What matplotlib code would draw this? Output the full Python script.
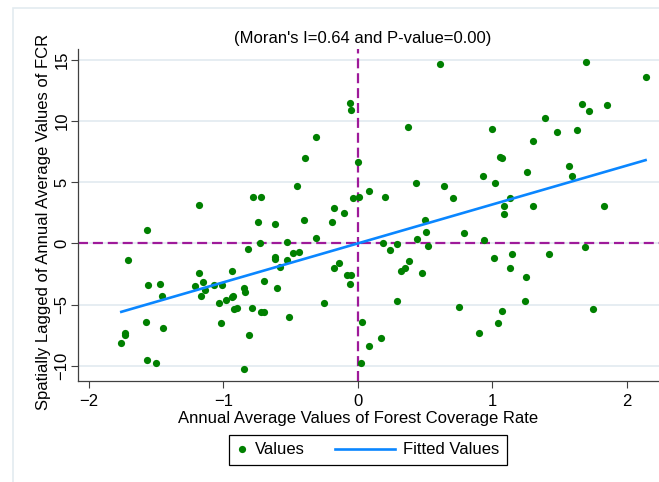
import numpy as np
import matplotlib
matplotlib.use('Agg')
import matplotlib.pyplot as plt
from matplotlib.legend_handler import HandlerLine2D
from matplotlib.patches import Rectangle

plt.rcParams['font.family'] = ['Liberation Sans', 'DejaVu Sans']

# Annual average forest coverage rate (x) vs spatially lagged FCR (y)
forest_rate = [
    -0.06, -0.05, -0.31, -0.39, 0.00, -0.45, -0.78, -0.72, -0.04, 0.01,
    -1.18, -0.18, 0.61, 1.70, 2.14, 1.67, 1.72, 1.85, 1.39, 0.37,
    1.00, 1.48, 1.63, 1.30, 1.06, 1.07, 1.57, 1.59, 0.93, 1.26,
    0.43, 1.02, 0.64, 0.08, 0.20, 0.71, 1.13, 1.09, 1.30, 1.83,
    -0.10, -1.57, -0.74, -0.62, -0.40, -0.19, -0.31, -0.73, -0.53, -0.82,
    -1.71, -0.62, -0.62, -0.53, -0.48, -0.44, -0.58, -0.14, -0.18, -0.08,
    -0.05, -0.06, -1.18, -0.94, -0.70, -1.56, -1.47, -1.21, -1.15, -1.14,
    -1.07, -1.01, -1.17, -1.46, -0.85, -0.84, -0.60, -0.98, -1.03, -0.94,
    -0.93, -0.92, -0.90, -0.79, -0.72, -0.70, -0.51, -0.25, -1.58, -1.02,
    -1.45, -1.73, -1.73, -1.76, -0.81, -1.57, -1.50, -0.85, 0.03, 0.02,
    1.09, 0.50, 0.51, 0.79, 0.44, 0.94, 0.19, 0.29, 0.52, 0.24,
    1.69, 0.38, 0.35, 0.32, 0.48, 1.01, 1.15, 1.42, 1.13, 1.25,
    0.29, 0.75, 1.24, 1.07, 1.75, 1.04, 0.90, 0.17, 0.08,
]
lagged_fcr = [
    11.52, 10.94, 8.72, 7.02, 6.64, 4.71, 3.84, 3.84, 3.76, 3.82,
    3.17, 2.93, 14.68, 14.87, 13.65, 11.40, 10.81, 11.30, 10.25, 9.56,
    9.35, 9.11, 9.24, 8.34, 7.04, 7.02, 6.30, 5.53, 5.53, 5.82,
    4.92, 4.92, 4.74, 4.28, 3.78, 3.76, 3.74, 3.07, 3.09, 3.09,
    2.46, 1.10, 1.73, 1.57, 1.92, 1.73, 0.49, 0.00, 0.16, -0.46,
    -1.39, -1.12, -1.28, -1.34, -0.79, -0.68, -1.93, -1.60, -2.03, -2.60,
    -2.60, -3.28, -2.40, -2.27, -3.04, -3.39, -3.33, -3.44, -3.17, -3.80,
    -3.36, -3.36, -4.28, -4.28, -3.66, -3.94, -3.66, -4.63, -4.88, -4.36,
    -4.26, -5.37, -5.26, -5.29, -5.61, -5.58, -5.99, -4.88, -6.38, -6.46,
    -6.91, -7.29, -7.44, -8.10, -7.48, -9.49, -9.73, -10.22, -6.43, -9.81,
    2.38, 1.89, 0.94, 0.86, 0.33, 0.25, 0.08, -0.06, -0.17, -0.52,
    -0.25, -1.42, -1.98, -2.27, -2.44, -1.18, -0.89, -0.87, -1.98, -2.72,
    -4.69, -5.18, -4.69, -5.53, -5.37, -6.48, -7.29, -7.70, -8.37,
]
x_ticks = [-2, -1, 0, 1, 2]
y_ticks = [-10, -5, 0, 5, 10, 15]
title = "(Moran's I=0.64 and P-value=0.00)"


class LongLineHandler(HandlerLine2D):
    # line sample reaching further left than the handle box
    def get_xdata(self, legend, xdescent, ydescent, width, height, fontsize):
        xdata = np.array([-xdescent - 3.0 * fontsize, -xdescent + width])
        return xdata, xdata[-1:]


def main():
    x = np.array(forest_rate)
    y = np.array(lagged_fcr)
    slope, intercept = np.polyfit(x, y, 1)
    xfit = np.array([x.min(), x.max()])

    fig = plt.figure(figsize=(6.59, 4.82), dpi=100)
    fig.patches.append(Rectangle((13 / 659, -0.1), 1.2, 1 - 8 / 482 + 0.1,
                                 transform=fig.transFigure, fill=False,
                                 edgecolor='#e3ebf0', linewidth=1.2))
    ax = fig.add_axes([78.3 / 659, 1 - 380.5 / 482, 1 - 78.3 / 659, 331.5 / 482])

    ax.set_xlim(-2.08, 2.24)
    ax.set_ylim(-11.2, 15.9)
    ax.set_xticks(x_ticks)
    ax.set_yticks(y_ticks)
    ax.set_xticklabels([f'{t}'.replace('-', '\u2212') for t in x_ticks])
    ax.set_yticklabels([f'{t}'.replace('-', '\u2212') for t in y_ticks],
                       rotation=90, va='center')
    ax.tick_params(direction='out', length=4.8, width=0.8, color='#404040',
                   labelsize=12)
    ax.tick_params(axis='x', pad=5)
    ax.tick_params(axis='y', pad=1.5)
    for side in ['top', 'right']:
        ax.spines[side].set_visible(False)
    for side in ['left', 'bottom']:
        ax.spines[side].set_color('#404040')
        ax.spines[side].set_linewidth(0.9)
    ax.grid(axis='y', color='#e4ecf1', linewidth=1.3)
    ax.set_axisbelow(True)

    ax.axhline(0, color='#9e1a9a', linewidth=1.6, dashes=(4.5, 2.2), zorder=1.5)
    ax.axvline(0, color='#9e1a9a', linewidth=1.6, dashes=(4.5, 2.2), zorder=1.5)

    ax.plot(x, y, 'o', color='#008000', markersize=5.2, markeredgewidth=0,
            zorder=2, label='Values')
    ax.plot(xfit, slope * xfit + intercept, color='#0a86ff', linewidth=1.9,
            zorder=3, label='Fitted Values')

    fig.text(363 / 659, 1 - 38 / 482, title, ha='center', va='center', fontsize=12)
    fig.text(358 / 659, 1 - 422.5 / 482, 'Annual Average Values of Forest Coverage Rate',
             ha='center', va='baseline', fontsize=12)
    fig.text(44 / 659, 1 - 222 / 482, 'Spatially Lagged of Annual Average Values of FCR',
             ha='center', va='center', rotation=90, fontsize=12)

    handles, labels = ax.get_legend_handles_labels()
    leg = fig.legend(handles, labels, loc='center', ncol=2,
                     bbox_to_anchor=(368 / 659, 1 - 450 / 482), fontsize=12,
                     handlelength=0.6, handletextpad=0.5, columnspacing=4.8,
                     borderpad=0.45, fancybox=False, framealpha=1,
                     handler_map={handles[1]: LongLineHandler()})
    leg.get_frame().set_edgecolor('black')
    leg.get_frame().set_linewidth(0.9)

    fig.savefig('out.png', dpi=100)
    plt.close(fig)
    print(f'fit: slope={slope:.3f} intercept={intercept:.3f}')


if __name__ == "__main__":
    main()
